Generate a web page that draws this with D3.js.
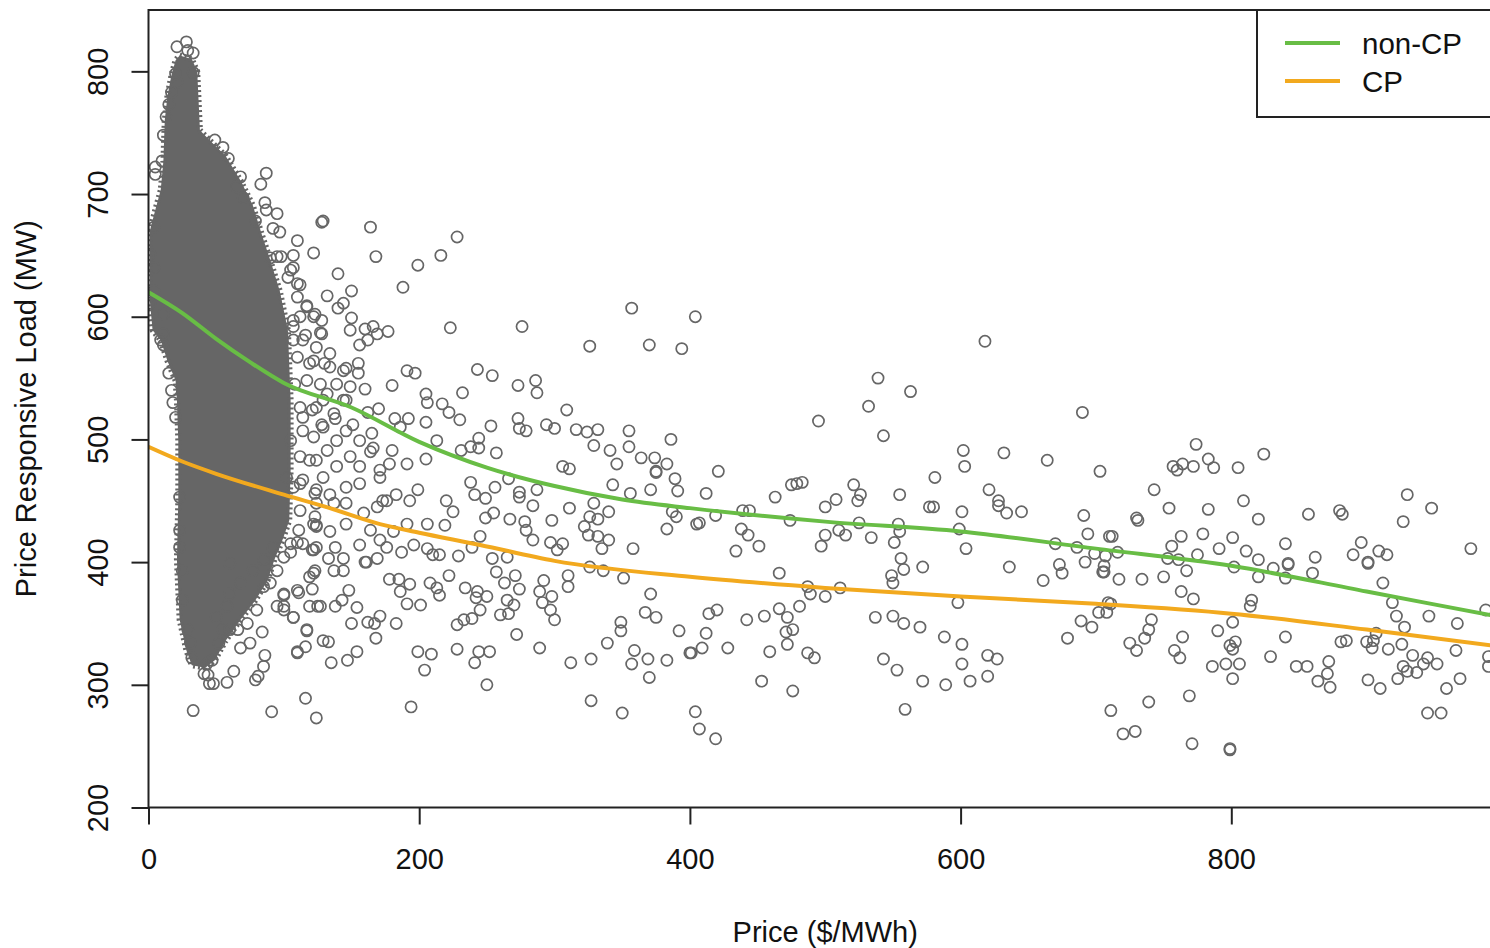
<!DOCTYPE html>
<html>
<head>
<meta charset="utf-8">
<script src="https://d3js.org/d3.v7.min.js"></script>
<style>
  body { margin: 0; background: #fff; }
  svg { display: block; font-family: "Liberation Sans", Arial, sans-serif; }
</style>
</head>
<body>
<svg id="chart" width="1490" height="948"></svg>
<script>
// ticks
var xTicks = [0, 200, 400, 600, 800];
var yTicks = [200, 300, 400, 500, 600, 700, 800];

// outline of the solid, over-plotted mass of points at low prices [price, load]
var denseCore = [
  [23,813],[32,810],[36,800],[37,776],[38,752],[45,744],[57,731],[68,711],[77,691],[84,666],
  [90,646],[97,621],[103,589],[105,532],[105,475],[104,434],[99,418],[93,402],[88,385],[79,369],
  [68,353],[57,336],[49,320],[42,314],[32,316],[28,328],[23,353],[22,377],[21,402],[22,450],
  [22,499],[21,532],[20,548],[14,564],[9,581],[3,589],[1,613],[1,670],[5,687],[9,703],
  [11,727],[12,760],[14,780],[17,797],[20,809]
];

// individual points around the dense mass [price, load]
var clusterPoints = [
  [21,820],[28,824],[33,815],[29,817],[20,798],[21,791],[33,799],[17,783],[15,773],[13,763],
  [11,748],[49,744],[55,738],[59,729],[5,722],[5,716],[10,727],[68,714],[87,717],[83,708],
  [65,706],[70,697],[86,693],[87,687],[95,684],[92,672],[79,678],[129,678],[95,649],[98,649],
  [90,648],[107,640],[103,632],[110,627],[132,617],[117,609],[123,602],[112,600],[128,597],[128,586],
  [116,585],[107,592],[4,621],[1,611],[11,602],[11,586],[4,673],[1,651],[4,640],
  [33,279],[91,278],[44,308],[48,301],[58,302],[63,311],[79,304],[81,307],[85,315],[86,324],
  [68,330],[75,334],[84,343],[66,345],[60,345],[95,364],[100,361],[107,355],[117,345],[110,327],
  [100,374],[110,377],[119,388],[123,393],[125,364],[129,336],[124,412],[122,431],[123,437],
  [9,581],[11,577],[15,554],[17,540],[18,530],[20,518],[23,453],[23,426],[23,412],[25,393],
  [25,369],[29,345],[31,334],[32,322],[43,317],[47,320],[41,309],[45,301],
  [107,581],[114,581],[124,575],[110,567],[119,562],[130,562],[108,545],[112,526],[121,524],[128,512],
  [114,507],[105,499],[112,486],[124,483],[129,469],[114,467],[107,461],[123,456],[124,448],[112,442],
  [124,429],[111,426],[105,415],[114,415],[100,404],[95,393],[121,410],
  [60,399],[68,383],[77,393],[85,402],[90,383],[80,361],[73,350],[58,364],[55,345],[85,380],
  [60,374],[92,412],[50,355],[52,334],
  [128,677],[110,662],[107,650],[122,652],[140,635],[150,621],[144,611],[140,607],[150,599],[149,589],
  [160,590],[166,592],[177,588],[169,586],[156,577],[162,581],[155,562],[160,541],[146,532],[129,532],
  [155,554],[146,558],[151,512],[138,517],[170,525],[162,522],[165,505],[164,490],[166,493],[178,480],
  [97,669],[105,638],[112,626],[110,616],[117,608],[107,597],[122,600],[127,587],[134,570],[122,564],
  [134,559],[144,556],[117,548],[127,545],[139,545],[149,543],[132,537],[144,532],[124,526],[137,521],
  [114,518],[129,510],[146,507],[122,502],[139,499],[156,499],[132,491],[149,486],[119,483],[139,478],
  [156,478],[171,475],
  [116,289],[124,273],[135,318],[147,320],[154,327],[110,326],[116,331],[133,335],[117,344],[107,355],
  [168,338],[150,350],[162,351],[171,356],[167,350],[154,363],[138,364],[127,364],[119,364],[143,369],
  [148,377],[144,393],[137,393],[122,391],[121,378],[111,375],[100,373],[100,364],[161,400],[169,403],
  [102,469],[112,464],[124,459],[134,455],[146,461],[156,464],[171,469],[176,450],[137,448],[146,448],
  [124,430],[134,425],[146,431],[164,426],[156,414],[110,416],[122,410],[138,412],[105,408],[133,403],
  [144,403],[169,445],[159,440],[173,450],[171,418],[160,400]
];

// sparser points at higher prices [price, load]
var tailPoints = [
  [164,673],[228,665],[168,649],[216,650],[199,642],[188,624],[223,591],[276,592],[357,607],[404,600],
  [326,576],[370,577],[394,574],[191,556],[197,554],[243,557],[254,552],[273,544],[286,548],[287,538],
  [232,538],[205,537],[206,530],[217,529],[222,522],[230,516],[309,524],[273,517],[279,507],[274,509],
  [294,512],[300,509],[316,508],[324,506],[332,508],[329,495],[341,491],[355,507],[355,494],[386,500],
  [364,485],[374,485],[383,480],[375,474],[346,480],[306,478],[311,476],[253,511],[257,489],[244,493],
  [238,494],[231,491],[244,501],[213,499],[205,514],[192,517],[186,510],[191,480],[205,484],[182,517],
  [180,544],[180,491],
  [194,282],[327,287],[350,277],[404,278],[407,264],[250,300],[183,350],[178,386],[185,386],[193,382],
  [186,376],[191,366],[201,365],[208,383],[213,379],[215,373],[222,389],[199,327],[209,325],[204,312],
  [228,329],[241,318],[244,327],[252,327],[228,349],[233,353],[239,354],[245,361],[250,372],[242,371],
  [234,379],[243,376],[257,392],[263,383],[271,389],[274,378],[270,365],[265,369],[260,357],[266,358],
  [272,341],[289,330],[292,385],[289,376],[298,372],[291,367],[297,361],[300,353],[310,389],[310,380],
  [312,318],[327,321],[339,334],[349,351],[349,344],[359,328],[357,317],[369,321],[370,306],[383,320],
  [400,326],[392,344],[367,359],[375,355],[371,374],[351,387],[358,411],[335,411],[326,396],[336,393],
  [340,418],[332,421],[325,422],[322,429],[326,437],[332,435],[340,441],[329,448],[383,427],[390,437],
  [387,441],[405,431],[356,456],[371,459],[391,458],[389,468],[375,473],[343,463],[311,444],[298,434],
  [306,415],[302,410],[297,416],[284,418],[279,426],[278,433],[284,446],[274,453],[287,459],[267,435],
  [255,440],[249,436],[245,421],[239,412],[229,405],[254,403],[265,404],[215,406],[210,406],[206,411],
  [219,430],[225,441],[220,450],[199,459],[193,450],[183,455],[238,465],[241,455],[249,452],[256,461],
  [266,468],[274,457],[206,431],[191,431],[181,425],[187,408],[176,412],[196,414],
  [618,580],[539,550],[563,539],[532,527],[495,515],[543,503],[690,522],[602,491],[632,489],[603,478],
  [664,483],[703,474],[421,474],[412,456],[463,453],[479,464],[483,465],[475,463],[521,463],[526,455],
  [524,450],[508,451],[500,445],[555,455],[581,469],[621,459],[628,450],[628,446],[634,440],[645,441],
  [577,445],[580,445],[601,441],[599,427],[604,411],[439,442],[444,442],[419,438],[407,432],[474,434],
  [438,427],[443,422],[434,409],[451,413],[497,413],[500,422],[510,426],[515,422],[525,432],[534,420],
  [551,416],[554,431],[555,425],[556,403],[670,415],[686,412],[691,438],[694,423],[710,421],[699,407],
  [558,394],[549,389],[550,383],[572,396],[636,396],[661,385],[673,398],[675,391],[692,400],[705,392],
  [466,391],[487,380],[489,374],[500,372],[511,379],[598,367],[414,358],[420,361],[412,342],[409,330],
  [401,326],[428,330],[442,353],[455,356],[466,362],[472,355],[481,364],[471,343],[476,345],[472,333],
  [459,327],[487,326],[492,322],[453,303],[476,295],[537,355],[550,356],[558,350],[570,347],[588,339],
  [601,333],[601,317],[620,324],[627,321],[620,307],[607,303],[589,300],[572,303],[543,321],[553,312],
  [559,280],[419,256],[679,338],[689,352],[697,347],[702,359],[708,359],[711,279],[709,367],
  [774,496],[824,488],[757,478],[764,480],[772,478],[783,484],[787,477],[805,477],[760,475],[743,459],
  [754,444],[783,443],[809,450],[820,435],[730,436],[731,434],[857,439],[880,442],[882,439],[930,455],
  [948,444],[927,433],[977,411],[712,421],[763,421],[779,423],[801,420],[756,413],[775,406],[791,411],
  [811,409],[820,402],[840,415],[842,399],[862,404],[890,406],[896,416],[901,400],[909,409],[915,406],
  [753,403],[761,402],[716,408],[707,405],[706,397],
  [706,392],[717,386],[734,386],[750,388],[767,393],[763,376],[772,370],[802,396],[820,388],[831,395],
  [840,387],[842,398],[860,391],[901,399],[912,383],[988,361],[815,369],[814,364],[711,366],[741,353],
  [739,345],[736,338],[725,334],[730,328],[764,339],[758,328],[762,322],[790,344],[801,351],[803,335],
  [799,332],[801,329],[786,315],[796,317],[806,317],[801,305],[829,323],[840,339],[848,315],[856,315],
  [872,319],[871,309],[864,303],[873,298],[881,335],[885,336],[900,335],[905,336],[904,330],[907,342],
  [916,329],[926,333],[901,304],[910,297],[919,367],[922,356],[928,347],[946,356],[967,350],[966,328],
  [990,323],[990,315],[934,324],[945,322],[952,317],[927,315],[930,311],[937,310],[942,317],[923,305],
  [969,305],[959,297],[945,277],[955,277],[739,286],[769,291],[720,260],[729,262],[771,252],[799,248],
  [799,247]
];

// fitted curves
var nonCpPrice = [0, 25, 50, 75, 100, 150, 200, 250, 300, 350, 400, 500, 600, 700, 800, 900, 1000];
var nonCpLoad  = [620, 603, 582, 563, 546, 526, 498, 477, 462, 451, 444, 433, 425, 411, 397, 376, 355];
var cpPrice = [0, 25, 50, 100, 134, 171, 200, 245, 300, 400, 500, 600, 700, 800, 900, 1000];
var cpLoad  = [494, 482, 472, 455, 444, 431, 424, 414, 401, 388, 379, 372, 366, 358, 345, 331];

var seriesNames = ['non-CP', 'CP'];
var seriesColors = ['#68bd45', '#f2a91e'];

var svg = d3.select('#chart');

var plotLeft = 148.5, plotTop = 10, plotBottom = 807.5, plotRight = 1502;
var x = d3.scaleLinear().domain([0, 1000]).range([plotLeft, plotRight]);
var y = d3.scaleLinear().domain([200, 850]).range([plotBottom, plotTop]);

svg.append('clipPath').attr('id', 'plotclip')
  .append('rect')
  .attr('x', plotLeft).attr('y', plotTop)
  .attr('width', plotRight - plotLeft).attr('height', plotBottom - plotTop);

var plot = svg.append('g').attr('clip-path', 'url(#plotclip)');

// over-plotted core: solid fill with a ragged, circle-like rim
plot.append('path')
  .datum(denseCore)
  .attr('d', d3.line()
    .x(function(d) { return x(d[0]); })
    .y(function(d) { return y(d[1]); })
    .curve(d3.curveLinearClosed))
  .attr('fill', '#666')
  .attr('stroke', '#666')
  .attr('stroke-width', 6)
  .attr('stroke-dasharray', '2 3')
  .attr('stroke-linejoin', 'round');

plot.selectAll('circle')
  .data(clusterPoints.concat(tailPoints))
  .enter().append('circle')
  .attr('cx', function(d) { return x(d[0]); })
  .attr('cy', function(d) { return y(d[1]); })
  .attr('r', 5.6)
  .attr('fill', 'none')
  .attr('stroke', '#666')
  .attr('stroke-width', 1.7);

var curve = d3.line()
  .x(function(d) { return x(d[0]); })
  .y(function(d) { return y(d[1]); })
  .curve(d3.curveMonotoneX);

plot.append('path')
  .datum(nonCpPrice.map(function(p, i) { return [p, nonCpLoad[i]]; }))
  .attr('d', curve)
  .attr('fill', 'none')
  .attr('stroke', seriesColors[0])
  .attr('stroke-width', 4);

plot.append('path')
  .datum(cpPrice.map(function(p, i) { return [p, cpLoad[i]]; }))
  .attr('d', curve)
  .attr('fill', 'none')
  .attr('stroke', seriesColors[1])
  .attr('stroke-width', 4);

// axes
var xAxis = svg.append('g')
  .attr('transform', 'translate(0,' + plotBottom + ')')
  .call(d3.axisBottom(x).tickValues(xTicks).tickSize(17).tickPadding(24));
xAxis.select('.domain').remove();
xAxis.attr('font-size', 29).attr('font-family', '"Liberation Sans", Arial, sans-serif');
xAxis.selectAll('line').attr('stroke', '#222').attr('stroke-width', 2);
xAxis.selectAll('text').attr('fill', '#111');

var yAxis = svg.append('g')
  .attr('transform', 'translate(' + plotLeft + ',0)')
  .call(d3.axisLeft(y).tickValues(yTicks).tickSize(17));
yAxis.select('.domain').remove();
yAxis.attr('font-size', 29).attr('font-family', '"Liberation Sans", Arial, sans-serif');
yAxis.selectAll('line').attr('stroke', '#222').attr('stroke-width', 2);
yAxis.selectAll('text')
  .attr('fill', '#111')
  .attr('x', 0).attr('dy', 0).attr('y', -41)
  .attr('transform', 'rotate(-90)')
  .attr('text-anchor', 'middle');

svg.append('rect')
  .attr('x', plotLeft).attr('y', plotTop)
  .attr('width', plotRight - plotLeft).attr('height', plotBottom - plotTop)
  .attr('fill', 'none').attr('stroke', '#222').attr('stroke-width', 2);

svg.append('text')
  .attr('x', (plotLeft + plotRight) / 2).attr('y', 942)
  .attr('text-anchor', 'middle').attr('font-size', 29).attr('fill', '#111')
  .text('Price ($/MWh)');

svg.append('text')
  .attr('transform', 'translate(36,' + ((plotTop + plotBottom) / 2) + ') rotate(-90)')
  .attr('text-anchor', 'middle').attr('font-size', 29).attr('fill', '#111')
  .text('Price Responsive Load (MW)');

// legend
var legend = svg.append('g');
legend.append('rect')
  .attr('x', 1257).attr('y', plotTop).attr('width', 260).attr('height', 107)
  .attr('fill', '#fff').attr('stroke', '#222').attr('stroke-width', 2);
seriesNames.forEach(function(name, i) {
  var ly = 43 + i * 38;
  legend.append('line')
    .attr('x1', 1285).attr('x2', 1340).attr('y1', ly).attr('y2', ly)
    .attr('stroke', seriesColors[i]).attr('stroke-width', 4);
  legend.append('text')
    .attr('x', 1362).attr('y', ly + 10.5)
    .attr('font-size', 29.5).attr('fill', '#111')
    .text(name);
});
</script>
</body>
</html>
